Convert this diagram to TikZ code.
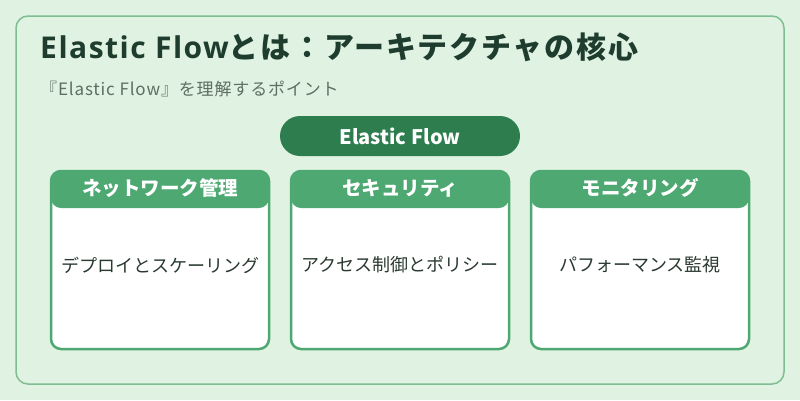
\documentclass[tikz,border=0pt]{standalone}
\usepackage{fontspec}
\setmainfont{Noto Sans CJK JP}
\newfontfamily\latinfont{Open Sans}
\definecolor{bggreen}{HTML}{E0F2E1}
\definecolor{framegreen}{HTML}{7FBD92}
\definecolor{titlegreen}{HTML}{1E3D2E}
\definecolor{subgray}{HTML}{5E6E63}
\definecolor{pillgreen}{HTML}{2D7D4E}
\definecolor{cardgreen}{HTML}{4DA872}
\definecolor{bodytext}{HTML}{2A3A30}
\begin{document}
\begin{tikzpicture}[x=1pt, y=-1pt,
		card/.style={draw=cardgreen, line width=2.5pt, fill=white, rounded corners=10pt,
			minimum width=218pt, minimum height=178pt, inner sep=0pt,
			path picture={\fill[cardgreen] (path picture bounding box.north west) rectangle ([yshift=-37pt]path picture bounding box.north east);}},
		hdr/.style={text=white, font=\fontsize{19.5}{23}\selectfont\bfseries, inner sep=0pt},
		body/.style={text=bodytext, font=\fontsize{18}{22}\selectfont, inner sep=0pt},
		pill/.style={fill=pillgreen, text=white, rounded corners=20pt, minimum width=240pt, minimum height=40pt,
			font=\fontsize{20}{24}\selectfont\bfseries}]
	\useasboundingbox[fill=bggreen] (0,0) rectangle (800,400);
	\draw[framegreen, line width=1.5pt, fill=bggreen, rounded corners=12pt] (16,16) rectangle (784,384);

	\node[anchor=base west, inner sep=0pt, text=titlegreen, font=\fontsize{30}{36}\selectfont\bfseries\addfontfeatures{LetterSpace=6}] (title) at (40,58)
		{{\latinfont\bfseries\addfontfeatures{LetterSpace=5}Elastic Flow}とは：アーキテクチャの核心};
	\node[anchor=base west, inner sep=0pt, text=subgray, font=\fontsize{17}{21}\selectfont\addfontfeatures{LetterSpace=5}] (sub) at (40,95) {『Elastic Flow』を理解するポイント};

	\node[pill] (ef) at (400,136) {Elastic Flow};

	\node[card] (net) at (160,260) {};
	\node[hdr] (nethdr) at (160,188) {ネットワーク管理};
	\node[body] (netbody) at (160,265) {デプロイとスケーリング};

	\node[card] (sec) at (400,260) {};
	\node[hdr] (sechdr) at (400,188) {セキュリティ};
	\node[body] (secbody) at (400,265) {アクセス制御とポリシー};

	\node[card] (mon) at (640,260) {};
	\node[hdr] (monhdr) at (640,188) {モニタリング};
	\node[body] (monbody) at (640,265) {パフォーマンス監視};
\end{tikzpicture}
\end{document}
